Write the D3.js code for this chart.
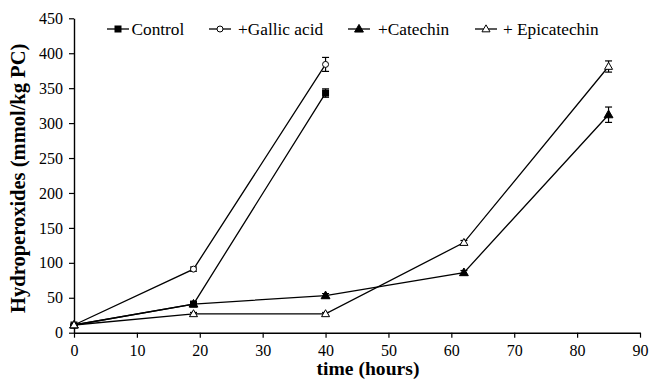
<!DOCTYPE html>
<html>
<head>
<meta charset="utf-8">
<script src="https://cdnjs.cloudflare.com/ajax/libs/d3/7.8.5/d3.min.js"></script>
<style>
  body { margin: 0; background: #fff; }
</style>
</head>
<body>
<svg width="654" height="385"></svg>
<script>
// time points (hours)
var hoursShort = [0, 19, 40];
var hoursLong = [0, 19, 40, 62, 85];

// hydroperoxides (mmol/kg PC) and their error bars
var control = [11, 41, 343];
var controlErr = [1, 2, 6];
var gallic = [11, 91, 384];
var gallicErr = [1, 3, 10];
var catechin = [11, 41, 53, 86, 312];
var catechinErr = [1, 2, 3, 3, 11];
var epicatechin = [11, 27, 27, 129, 381];
var epicatechinErr = [1, 2, 2, 3, 8];

var xTicks = [0, 10, 20, 30, 40, 50, 60, 70, 80, 90];
var yTicks = [0, 50, 100, 150, 200, 250, 300, 350, 400, 450];

var seriesNames = ["Control", "+Gallic acid", "+Catechin", "+ Epicatechin"];
var seriesMarkers = ["square", "circle", "triangle", "triangleOpen"];

var serif = "Liberation Serif, Times New Roman, Times, serif";

function build(xs, ys, errs) {
    return xs.map(function(x, i) { return {x: x, y: ys[i], e: errs[i]}; });
}

var series = [
    {name: seriesNames[0], marker: seriesMarkers[0], pts: build(hoursShort, control, controlErr)},
    {name: seriesNames[1], marker: seriesMarkers[1], pts: build(hoursShort, gallic, gallicErr)},
    {name: seriesNames[2], marker: seriesMarkers[2], pts: build(hoursLong, catechin, catechinErr)},
    {name: seriesNames[3], marker: seriesMarkers[3], pts: build(hoursLong, epicatechin, epicatechinErr)}
];

var svg = d3.select("svg");
var x = d3.scaleLinear().domain([0, 90]).range([74, 640]);
var y = d3.scaleLinear().domain([0, 450]).range([332.7, 18.3]);

// axes
var xAxis = svg.append("g")
    .attr("transform", "translate(0," + y(0) + ")")
    .call(d3.axisBottom(x).tickValues(xTicks).tickSize(5).tickSizeOuter(0).tickPadding(7));
var yAxis = svg.append("g")
    .attr("transform", "translate(" + x(0) + ",0)")
    .call(d3.axisLeft(y).tickValues(yTicks).tickSize(5).tickSizeOuter(0).tickPadding(6));

[xAxis, yAxis].forEach(function(a) {
    a.attr("font-family", serif).attr("font-size", 16);
    a.selectAll(".domain").attr("stroke", "#000").attr("stroke-width", 1.4);
    a.selectAll(".tick line").attr("stroke", "#000").attr("stroke-width", 1.2);
    a.selectAll("text").attr("fill", "#000");
});

// axis titles
svg.append("text")
    .attr("x", 368).attr("y", 375)
    .attr("text-anchor", "middle")
    .attr("font-family", serif)
    .attr("font-weight", "bold").attr("font-size", 19.6)
    .text("time (hours)");
svg.append("text")
    .attr("transform", "translate(24.5,178.3) rotate(-90)")
    .attr("text-anchor", "middle")
    .attr("font-family", serif)
    .attr("font-weight", "bold").attr("font-size", 20.5)
    .text("Hydroperoxides (mmol/kg PC)");

function drawMarker(g, kind, cx, cy) {
    if (kind == "square") {
        g.append("rect").attr("x", cx - 3.5).attr("y", cy - 3.5).attr("width", 7).attr("height", 7)
            .attr("fill", "#000");
    } else if (kind == "circle") {
        g.append("circle").attr("cx", cx).attr("cy", cy).attr("r", 3)
            .attr("fill", "#fff").attr("stroke", "#000").attr("stroke-width", 1);
    } else {
        var tri = d3.symbol().type(d3.symbolTriangle).size(kind == "triangle" ? 34 : 28);
        g.append("path").attr("d", tri()).attr("transform", "translate(" + cx + "," + (cy + 0.5) + ")")
            .attr("fill", kind == "triangle" ? "#000" : "#fff")
            .attr("stroke", "#000").attr("stroke-width", 1);
    }
}

var line = d3.line().x(function(d) { return x(d.x); }).y(function(d) { return y(d.y); });

series.forEach(function(s) {
    var g = svg.append("g");
    g.append("path").datum(s.pts).attr("d", line)
        .attr("fill", "none").attr("stroke", "#000").attr("stroke-width", 1.3);
    s.pts.forEach(function(p) {
        var px = x(p.x);
        g.append("line").attr("x1", px).attr("x2", px).attr("y1", y(p.y - p.e)).attr("y2", y(p.y + p.e))
            .attr("stroke", "#000").attr("stroke-width", 1.2);
        [p.y - p.e, p.y + p.e].forEach(function(v) {
            g.append("line").attr("x1", px - 3.5).attr("x2", px + 3.5).attr("y1", y(v)).attr("y2", y(v))
                .attr("stroke", "#000").attr("stroke-width", 1.2);
        });
    });
    s.pts.forEach(function(p) { drawMarker(g, s.marker, x(p.x), y(p.y)); });
});

// legend
var legendX = [107, 209, 348, 475];
var legendTextX = [131.5, 238, 378, 503];
var legend = svg.append("g");
series.forEach(function(s, i) {
    var lx = legendX[i], ly = 29;
    legend.append("line").attr("x1", lx).attr("x2", lx + 22).attr("y1", ly).attr("y2", ly)
        .attr("stroke", "#000").attr("stroke-width", 1.3);
    drawMarker(legend, s.marker, lx + 11, ly);
    legend.append("text").attr("x", legendTextX[i]).attr("y", 35)
        .attr("font-family", serif)
        .attr("font-size", 17.3).attr("fill", "#000")
        .text(s.name);
});
</script>
</body>
</html>
